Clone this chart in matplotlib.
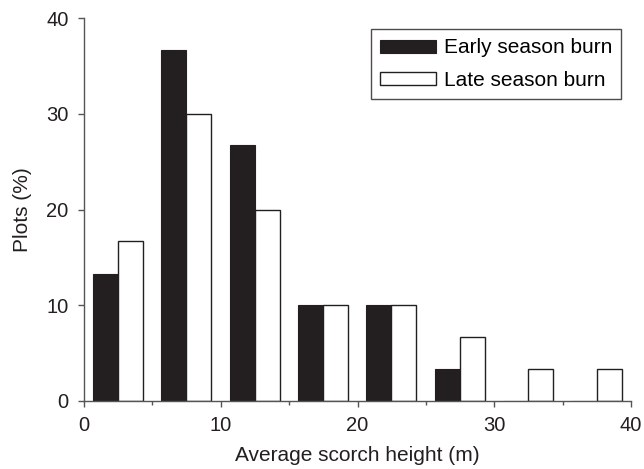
import numpy as np
import matplotlib
matplotlib.use("Agg")
import matplotlib.pyplot as plt

plt.rcParams['font.family'] = ['Liberation Sans', 'DejaVu Sans']

# bin centres of scorch height classes (m)
bin_centres = [2.5, 7.5, 12.5, 17.5, 22.5, 27.5, 32.5, 37.5]
early = [13.3, 36.7, 26.7, 10.0, 10.0, 3.3, 0, 0]
late = [16.7, 30.0, 20.0, 10.0, 10.0, 6.7, 3.3, 3.3]

fig = plt.figure(figsize=(6.44, 4.69), dpi=100)
ax = fig.add_axes([0.1304, 0.145, 0.8496, 0.8166])

w = 1.83
x = np.array(bin_centres) - 0.03
ax.bar(x - w / 2, early, width=w, color='#231f20', edgecolor='#231f20',
       linewidth=0.8, label='Early season burn')
ax.bar(x + w / 2, late, width=w, color='white', edgecolor='#231f20',
       linewidth=1.0, label='Late season burn')

ax.set_xlim(0, 40)
ax.set_ylim(0, 40)
ax.set_xticks([0, 10, 20, 30, 40])
ax.set_xticks([5, 15, 25, 35], minor=True)
ax.set_yticks([0, 10, 20, 30, 40])
ax.tick_params(axis='both', which='both', direction='out', labelsize=14.5,
               color='#555555', labelcolor='#231f20', width=1.0)
ax.tick_params(which='major', length=4, pad=7)
ax.tick_params(which='minor', length=3)
for s in ['top', 'right']:
    ax.spines[s].set_visible(False)
for s in ['left', 'bottom']:
    ax.spines[s].set_color('#555555')
    ax.spines[s].set_linewidth(1.0)

ax.set_xlabel('Average scorch height (m)', fontsize=15, color='#231f20', labelpad=8)
ax.set_ylabel('Plots (%)', fontsize=15, color='#231f20', labelpad=10)

leg = ax.legend(loc='upper right', bbox_to_anchor=(0.982, 0.971), fontsize=15,
                frameon=True, fancybox=False, edgecolor='#231f20',
                handlelength=2.7, handleheight=0.6, handletextpad=0.35,
                borderpad=0.45, labelspacing=0.64, borderaxespad=0)
leg.get_frame().set_linewidth(1.0)

fig.savefig('out.png', dpi=100)
